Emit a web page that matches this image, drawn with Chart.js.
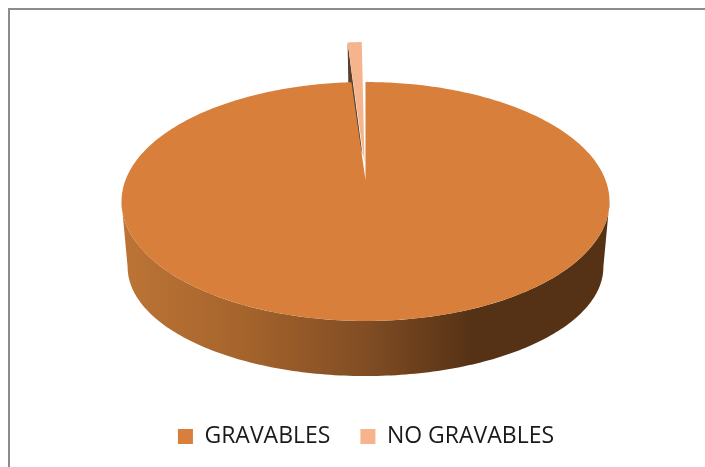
<!DOCTYPE html>
<html>
<head>
<meta charset="utf-8">
<script src="https://cdn.jsdelivr.net/npm/chart.js@4"></script>
<style>
  html, body { margin: 0; padding: 0; background: #fff; overflow: hidden; }
  #wrap { position: absolute; left: 0; top: 0; width: 705px; height: 467px; }
  #frame { position: absolute; left: 8px; top: 8px; right: 0; bottom: 0; border-left: 2px solid #8c8c8c; border-top: 2px solid #8c8c8c; }
  canvas { position: absolute; left: 0; top: 0; }
</style>
</head>
<body>
<div id="wrap">
  <div id="frame"></div>
  <canvas id="pie" width="705" height="467"></canvas>
</div>
<script>
// Datos
const categories = ['GRAVABLES', 'NO GRAVABLES'];
const values = [98.9, 1.1];
const colors = ['#d87f3b', '#f5b48c'];

// Perspectiva de la tapa y de la base (plano -> pixeles)
const persp = 0.18;
const topPlane = { cx: 365.5, cy: 180, a: 240, b: 115.6 };
const basePlane = { cx: 365.5, cy: 247.4, a: 234, b: 105.5 };
const slicePlane = { cx: 365.5, cy: 180, a: 190, b: 115.6 };

function project(plane, angle, r, shift) {
  const u = r * Math.cos(angle) + shift.x;
  const v = r * Math.sin(angle) + shift.y;
  const w = 1 - persp * v;
  return { x: plane.cx + plane.a * u / w, y: plane.cy + plane.b * v / w };
}

function trace(ctx, points) {
  ctx.beginPath();
  points.forEach((p, i) => (i ? ctx.lineTo(p.x, p.y) : ctx.moveTo(p.x, p.y)));
  ctx.closePath();
}

function rim(plane, from, to, r, shift) {
  const pts = [];
  const steps = Math.max(2, Math.ceil((to - from) * 60));
  for (let i = 0; i <= steps; i++) {
    pts.push(project(plane, from + (to - from) * i / steps, r, shift));
  }
  return pts;
}

function drawFace(ctx, plane, from, to, color, shift, r) {
  trace(ctx, [project(plane, 0, 0, shift)].concat(rim(plane, from, to, r, shift)));
  ctx.fillStyle = color;
  ctx.fill();
}

// Torta 3D: usa los ángulos que calcula Chart.js para cada porción
const pie3d = {
  id: 'pie3d',
  beforeDatasetsDraw(chart) {
    const ctx = chart.ctx;
    const [main, small] = chart.getDatasetMeta(0).data;
    const none = { x: 0, y: 0 };
    ctx.save();

    // porción separada
    const tilt = 0.84 * Math.PI / 180;
    const mid = (small.startAngle + small.endAngle) / 2;
    const shift = { x: 0.15 * Math.cos(mid), y: 0.15 * Math.sin(mid) };
    const smallR = 1.37;
    const outer = project(slicePlane, small.startAngle - tilt, smallR, shift);
    const apex = project(slicePlane, 0, 0, shift);
    trace(ctx, [outer, { x: outer.x + 1, y: outer.y + 58 }, { x: apex.x - 2, y: apex.y - 8 }]);
    ctx.fillStyle = '#5a3f2c';
    ctx.fill();
    drawFace(ctx, slicePlane, small.startAngle - tilt, small.endAngle - tilt, colors[1], shift, smallR);

    // pared frontal, de borde a borde de la elipse
    const from = Math.asin(persp);
    const to = Math.PI - from;
    const wall = rim(topPlane, from, to, 1, none).concat(rim(basePlane, from, to, 1, none).reverse());
    const grad = ctx.createLinearGradient(122, 0, 610, 0);
    grad.addColorStop(0, '#bd7436');
    grad.addColorStop(0.25, '#a5642c');
    grad.addColorStop(0.5, '#814d24');
    grad.addColorStop(0.72, '#553215');
    grad.addColorStop(1, '#553215');
    trace(ctx, wall);
    ctx.fillStyle = grad;
    ctx.fill();

    drawFace(ctx, topPlane, main.startAngle, main.endAngle, colors[0], none, 1);
    ctx.restore();
    return false;
  }
};

new Chart(document.getElementById('pie'), {
  type: 'pie',
  data: {
    labels: categories,
    datasets: [{ data: values, backgroundColor: colors, borderWidth: 0 }]
  },
  options: {
    responsive: false,
    animation: false,
    layout: { padding: { bottom: 9, left: 27 } },
    plugins: {
      tooltip: { enabled: false },
      legend: {
        position: 'bottom',
        labels: {
          boxWidth: 15,
          boxHeight: 15,
          padding: 30,
          color: '#1a1a1a',
          font: { family: '"Open Sans"', size: 23 }
        }
      }
    }
  },
  plugins: [pie3d]
});
</script>
</body>
</html>
